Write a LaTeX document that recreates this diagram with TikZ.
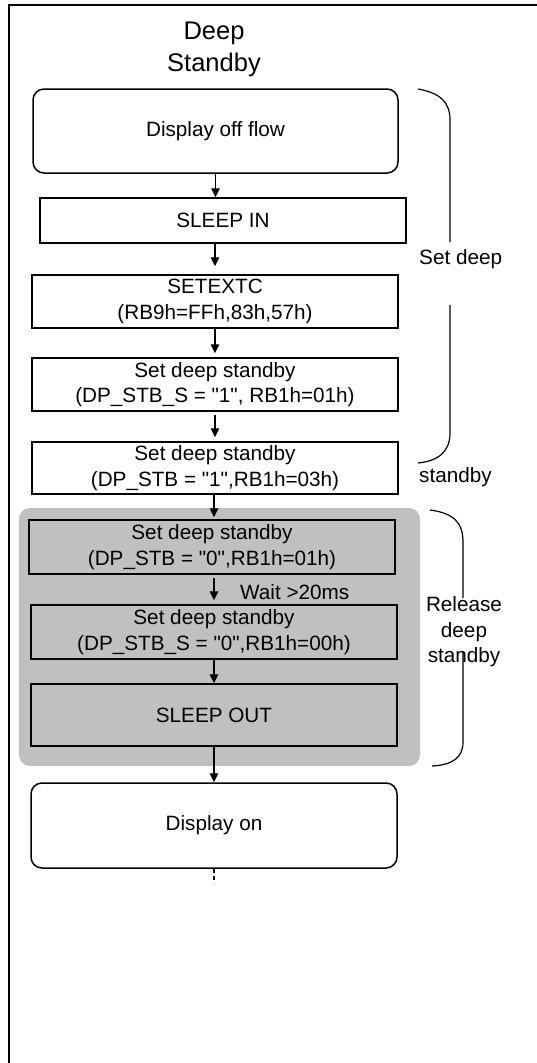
\documentclass[tikz,border=0pt]{standalone}
\usepackage{fontspec}
\newfontfamily\arial{Liberation Sans}
\usetikzlibrary{arrows.meta}
\definecolor{graybg}{RGB}{192,192,192}
\tikzset{
  txt/.style={font=\arial\fontsize{20.7}{25.5}\selectfont, align=center, inner sep=0pt},
  box/.style={txt, draw, rectangle, line width=1.5pt},
  rbox/.style={box, rounded corners=11pt},
  arr/.style={line width=1.3pt, -{Triangle[length=9pt,width=8.5pt]}},
  brace/.style={line width=1.2pt},
  frame/.style={line width=2pt}
}
\begin{document}
\begin{tikzpicture}[x=1pt,y=-1pt]
\useasboundingbox (0,0) rectangle (536,1063);
% outer frame
\draw[frame] (9,1070) -- (9,5) -- (540,5);
% title
\node[txt, font=\arial\fontsize{25.5}{32}\selectfont] (title) at (214,49) {Deep\\Standby};
% gray region
\fill[graybg, rounded corners=11pt] (19,508) rectangle (420,766);
% boxes
\node[rbox, minimum width=365pt, minimum height=84pt] (b1) at (215.5,131) {Display off flow};
\node[box, minimum width=366pt, minimum height=45pt] (b2) at (223,220.5) {SLEEP IN};
\node[box, minimum width=366pt, minimum height=53pt] (b3) at (215,301.5) {SETEXTC\\(RB9h=FFh,83h,57h)};
\node[box, minimum width=366pt, minimum height=53pt] (b4) at (215,384.5) {Set deep standby\\(DP\_STB\_S = "1", RB1h=01h)};
\node[box, minimum width=366pt, minimum height=52pt] (b5) at (215,468) {Set deep standby\\(DP\_STB = "1",RB1h=03h)};
\node[box, fill=graybg, minimum width=366pt, minimum height=54pt] (b6) at (212,547) {Set deep standby\\(DP\_STB = "0",RB1h=01h)};
\node[box, fill=graybg, minimum width=366pt, minimum height=54pt] (b7) at (214,632) {Set deep standby\\(DP\_STB\_S = "0",RB1h=00h)};
\node[box, fill=graybg, minimum width=366pt, minimum height=62pt] (b8) at (214,715) {SLEEP OUT};
\node[rbox, fill=white, minimum width=366pt, minimum height=85pt] (b9) at (214,825.5) {Display on};
% arrows
\draw[arr] (b1.south) -- (b1.south |- b2.north);
\draw[arr, shorten >=8pt] (b3.north |- b2.south) -- (b3.north);
\draw[arr, shorten >=4pt] (b3.south) -- (b4.north);
\draw[arr, shorten <=3pt, shorten >=4pt] (b4.south) -- (b5.north);
\draw[arr, shorten >=2pt] ([xshift=-1pt]b5.south) -- ([xshift=-1pt]b5.south |- b6.north);
\draw[arr, shorten <=3pt, shorten >=4pt] ([xshift=2pt]b6.south) -- ([xshift=2pt]b6.south |- b7.north);
\draw[arr] (b7.south) -- (b8.north);
\draw[arr] (b8.south) -- (b9.north);
\coordinate (tail) at ([yshift=-14pt]b9.south);
\draw[line width=1.2pt, dash pattern=on 4pt off 3pt] (b9.south) -- (tail);
\node[txt, anchor=west] (wait) at (240,592) {Wait >20ms};
% braces
\draw[brace] (418,89) .. controls (440,93) and (450,102) .. (450,120) -- (450,242);
\draw[brace] (450,305) -- (450,433) .. controls (450,452) and (438,461) .. (418,463);
\node[txt, anchor=west] (setdeep) at (419,259) {Set deep};
\node[txt, anchor=west] (stby) at (419,477) {standby};
\draw[brace] (430,510) .. controls (453,513) and (463,522) .. (463,542) -- (463,598);
\draw[brace] (463,652) -- (463,742) .. controls (463,758) and (452,765) .. (432,766);
\node[txt] (release) at (464,632) {Release\\deep\\standby};
\end{tikzpicture}
\end{document}
